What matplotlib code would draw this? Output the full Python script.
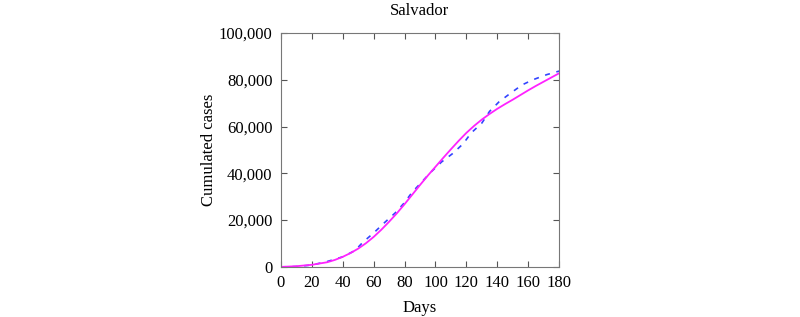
import matplotlib
matplotlib.use("Agg")
import matplotlib.pyplot as plt
from matplotlib.ticker import FuncFormatter, MultipleLocator

# model curve (solid magenta)
model_days = [0, 10, 20, 30, 35, 40, 45, 50, 55, 60, 65, 70, 75, 80, 85, 90, 95, 100,
              105, 110, 115, 120, 125, 130, 135, 140, 145, 150, 155, 160, 165, 170, 175, 180]
model_cases = [0, 300, 900, 2000, 3000, 4300, 5900, 7800, 10100, 12800, 15900, 19300,
               22900, 26800, 30900, 35000, 39000, 42800, 46600, 50300, 53900, 57300,
               60300, 63000, 65400, 67600, 69600, 71500, 73500, 75500, 77400, 79200,
               81000, 82800]

# reported data (dashed blue)
data_days = [0, 10, 20, 30, 40, 48, 53, 60, 67, 74, 80, 85, 90, 97, 104, 111, 118, 123,
             130, 135, 141, 148, 156, 163, 172, 180]
data_cases = [0, 150, 800, 2300, 4300, 7000, 10500, 14500, 18900, 23100, 27500, 32000,
              35500, 40500, 44900, 48400, 52700, 57200, 61500, 66500, 70500, 74000,
              77800, 80000, 82200, 83700]

plt.rcParams['font.family'] = ['Liberation Serif', 'DejaVu Serif']
plt.rcParams['font.size'] = 12

fig = plt.figure(figsize=(8, 3.17), dpi=100)
ax = fig.add_axes([0.351, 0.158, 0.348, 0.738])

ax.plot(data_days, data_cases, color='#3344ff', linestyle=(0, (3, 4)), linewidth=1.2)
ax.plot(model_days, model_cases, color='#ff22ff', linewidth=1.3)

ax.set_xlim(0, 180)
ax.set_ylim(0, 100000)
ax.xaxis.set_major_locator(MultipleLocator(20))
ax.yaxis.set_major_locator(MultipleLocator(20000))
ax.yaxis.set_major_formatter(FuncFormatter(lambda v, p: f"{int(v):,}"))
ax.tick_params(direction='in', top=True, right=True, length=4, width=0.8,
               color='#555555', pad=6)
for s in ax.spines.values():
    s.set_color('#777777')
    s.set_linewidth(0.8)

ax.set_xlabel('Days', labelpad=6)
ax.set_ylabel('Cumulated cases', labelpad=1)
ax.set_title('Salvador', fontsize=12, pad=13)

fig.savefig('out.png', dpi=100, facecolor='white')
